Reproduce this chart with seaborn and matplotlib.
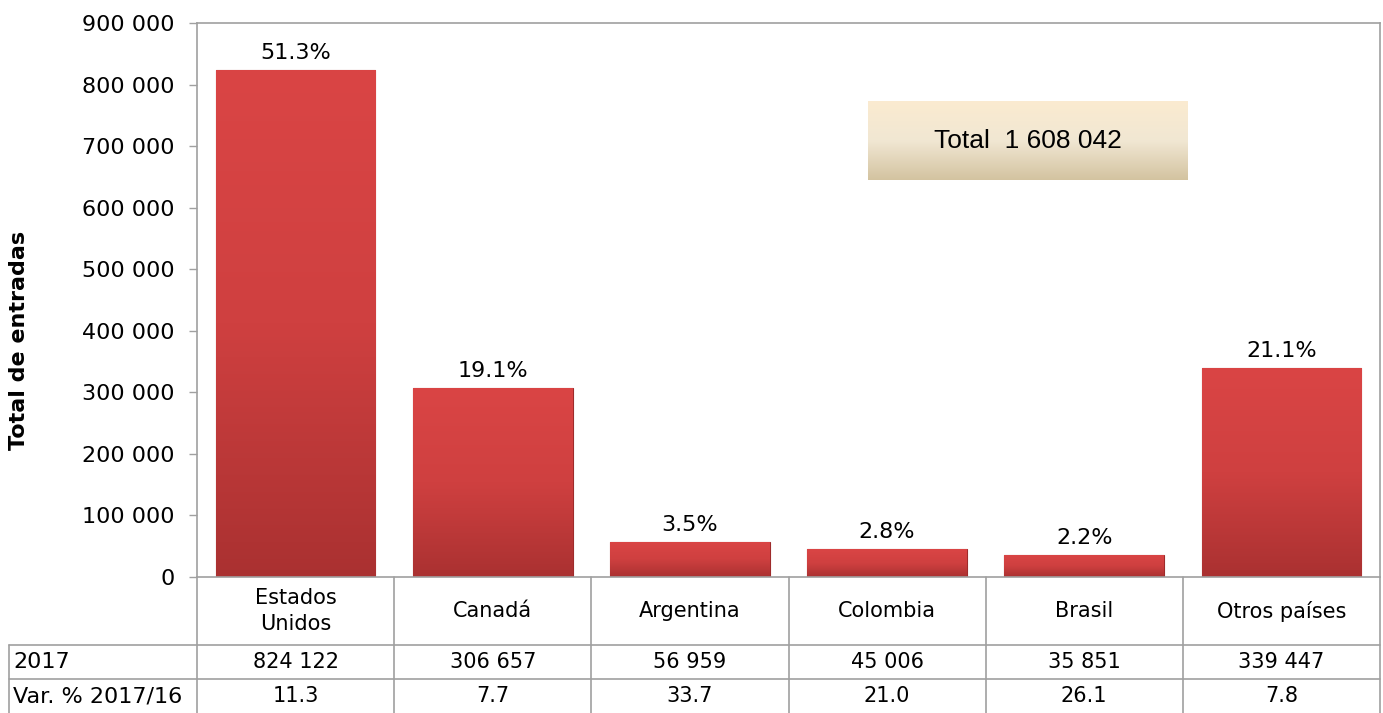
import numpy as np
import matplotlib
matplotlib.use("Agg")
import matplotlib.pyplot as plt
import matplotlib.transforms as mtransforms
from matplotlib.colors import LinearSegmentedColormap
from matplotlib.lines import Line2D
import seaborn as sns

# Data
paises = ["Estados\nUnidos", "Canadá", "Argentina", "Colombia", "Brasil", "Otros países"]
entradas_2017 = [824122, 306657, 56959, 45006, 35851, 339447]
participacion = [51.3, 19.1, 3.5, 2.8, 2.2, 21.1]
var_pct = [11.3, 7.7, 33.7, 21.0, 26.1, 7.8]
yticks = [0, 100000, 200000, 300000, 400000, 500000, 600000, 700000, 800000, 900000]


def fmt(v):
    return f"{v:,}".replace(",", " ")


sns.set_style("white")
plt.rcParams["font.family"] = ["DejaVu Sans"]
plt.rcParams["text.color"] = "black"
plt.rcParams["axes.labelcolor"] = "black"
plt.rcParams["ytick.labelcolor"] = "black"

W, H = 1383, 713
fig = plt.figure(figsize=(W / 100, H / 100), dpi=100)
ax = fig.add_axes([197 / W, (H - 577) / H, 1183 / W, 554 / H])

sns.barplot(x=paises, y=entradas_2017, color="#C83C3C", width=0.81,
            edgecolor="#9E2B2B", linewidth=0.8, ax=ax)

# vertical gradient on each bar
grad = np.linspace(0, 1, 256).reshape(-1, 1)
cmap = LinearSegmentedColormap.from_list("bar", ["#AA3131", "#CF4040", "#DA4545"])
for bar in list(ax.patches):
    x0, y0 = bar.get_x(), bar.get_y()
    w, h = bar.get_width(), bar.get_height()
    im = ax.imshow(grad, extent=[x0, x0 + w, y0, y0 + h], origin="lower",
                   aspect="auto", cmap=cmap, zorder=bar.get_zorder() + 0.1)
    im.set_clip_path(bar)

ax.set_xlim(-0.5, len(paises) - 0.5)
ax.set_ylim(0, 900000)
ax.set_yticks(yticks)
ax.set_yticklabels([fmt(t) for t in yticks], fontsize=16)
ax.set_xticks([])
ax.set_xlabel("")
ax.tick_params(axis="y", left=True, length=6, width=1, color="#A0A0A0", pad=10)
for s in ax.spines.values():
    s.set_color("#A0A0A0")
    s.set_linewidth(1.2)

ax.set_ylabel("Total de entradas", fontsize=16, fontweight="bold")
ax.yaxis.set_label_coords(-0.142, (577 - 340) / 554)

# percentage labels
for i, (v, p) in enumerate(zip(entradas_2017, participacion)):
    ax.annotate(f"{p:.1f}%", (i, v), xytext=(0, 5), textcoords="offset points",
                ha="center", va="bottom", fontsize=16)

# data table below the axis
trans = mtransforms.blended_transform_factory(ax.transData, ax.transAxes)
y_row1 = (577 - 611) / 554
y_row2 = (577 - 662) / 554
y_row3 = (577 - 696) / 554
y_bot = (577 - 713) / 554
for i, (p, v, d) in enumerate(zip(paises, entradas_2017, var_pct)):
    ax.text(i, y_row1, p, transform=trans, ha="center", va="center",
            fontsize=15, linespacing=1.35)
    ax.text(i, y_row2, fmt(v), transform=trans, ha="center", va="center", fontsize=15)
    ax.text(i, y_row3, f"{d:.1f}", transform=trans, ha="center", va="center", fontsize=15)
for k in range(len(paises) + 1):
    ax.plot([k - 0.5, k - 0.5], [0, y_bot], transform=trans, color="#A0A0A0",
            lw=1.2, clip_on=False)

for yp in [645, 679]:
    fig.add_artist(Line2D([9 / W, 1380 / W], [1 - yp / H, 1 - yp / H],
                          transform=fig.transFigure, color="#A0A0A0", lw=1.2))
fig.add_artist(Line2D([9 / W, 9 / W], [1 - 645 / H, 0], transform=fig.transFigure,
                      color="#A0A0A0", lw=1.2))
fig.text(13 / W, 1 - 662 / H, "2017", ha="left", va="center", fontsize=16)
fig.text(13 / W, 1 - 696 / H, "Var. % 2017/16", ha="left", va="center", fontsize=16)

# total box
box = ax.inset_axes([(868 - 197) / 1183, (577 - 180) / 554, 320 / 1183, 79 / 554])
box_cmap = LinearSegmentedColormap.from_list("box", ["#D3C3A0", "#F1E7D3", "#FBEBD0"])
box.imshow(grad, origin="lower", aspect="auto", cmap=box_cmap, extent=[0, 1, 0, 1])
box.axis("off")
box.text(0.5, 0.5, "Total  " + fmt(sum(entradas_2017)), ha="center", va="center",
         fontsize=19, family="Liberation Sans", transform=box.transAxes)

fig.savefig("out.png", dpi=100)
